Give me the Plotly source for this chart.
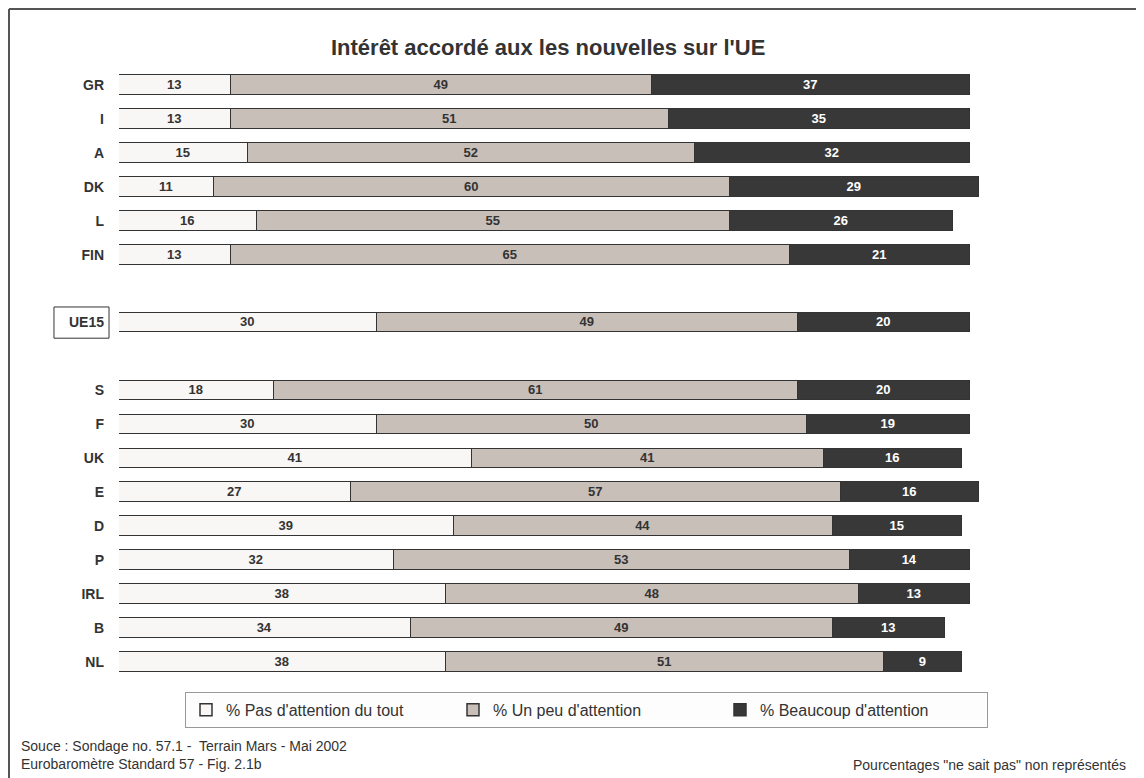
import plotly.graph_objects as go

###### DATA #####
pays = ["GR", "I", "A", "DK", "L", "FIN", "UE15", "S", "F", "UK", "E", "D", "P", "IRL", "B", "NL"]
pas_du_tout = [13, 13, 15, 11, 16, 13, 30, 18, 30, 41, 27, 39, 32, 38, 34, 38]
un_peu = [49, 51, 52, 60, 55, 65, 49, 61, 50, 41, 57, 44, 53, 48, 49, 51]
beaucoup = [37, 35, 32, 29, 26, 21, 20, 20, 19, 16, 16, 15, 14, 13, 13, 9]
noms = ["% Pas d'attention du tout", "% Un peu d'attention", "% Beaucoup d'attention"]
###### DATA #####

# one empty slot before and after UE15
pos, p = [], 0
for c in pays:
    if c in ("UE15", "S"):
        p += 1
    pos.append(p)
    p += 1

couleurs = ["#f8f7f5", "#c8bfb9", "#383838"]
textes = ["#333333", "#333333", "#ffffff"]
police = "Liberation Sans, Arial, sans-serif"

fig = go.Figure()
for vals, nom, col, tc in zip([pas_du_tout, un_peu, beaucoup], noms, couleurs, textes):
    fig.add_trace(go.Bar(
        y=pos, x=vals, name=nom, orientation="h", width=0.58,
        marker=dict(color=col, line=dict(color="#333333", width=1.5)),
        text=vals, textposition="inside", insidetextanchor="middle", textangle=0,
        textfont=dict(family=police, size=13, color=tc, weight="bold"),
        hoverinfo="skip",
    ))

# page body has an 8px margin, so the figure is 8px smaller
fig.update_layout(
    barmode="stack", bargap=0,
    width=1136, height=770,
    margin=dict(l=111, r=165, t=60, b=99, autoexpand=False),
    paper_bgcolor="white", plot_bgcolor="white",
    font=dict(family=police, color="#333333"),
    uniformtext=dict(minsize=13, mode="show"),
    title=dict(text="<b>Intérêt accordé aux les nouvelles sur l'UE</b>",
               x=0.4755, xanchor="center", y=0.949, yanchor="middle",
               font=dict(size=22, color="#333333")),
    xaxis=dict(range=[0, 100], visible=False, fixedrange=True),
    yaxis=dict(range=[17.5, -0.5], tickvals=pos,
               ticktext=["<b>%s</b>" % c for c in pays],
               tickfont=dict(size=14, color="#333333"),
               showgrid=False, zeroline=False, showline=False, ticks="",
               ticklabelstandoff=14, fixedrange=True),
    showlegend=True,
    legend=dict(orientation="h", x=(185 - 119) / 860, xanchor="left", y=-0.021, yanchor="top",
                bgcolor="#fdfdfd", bordercolor="#999999", borderwidth=1,
                font=dict(size=16, color="#333333"),
                entrywidth=222, traceorder="normal"),
)

# UE15 box
fig.add_shape(type="rect", xref="paper", yref="y",
              x0=-0.0756, x1=-0.0116, y0=pos[6] - 0.46, y1=pos[6] + 0.46,
              line=dict(color="#333333", width=1))
# outer frame (top and left)
fig.add_shape(type="line", xref="paper", yref="paper",
              x0=-0.1279, x1=1.2, y0=1.0966, y1=1.0966, line=dict(color="#555555", width=2))
fig.add_shape(type="line", xref="paper", yref="paper",
              x0=-0.1279, x1=-0.1279, y0=1.0966, y1=-0.17, line=dict(color="#555555", width=2))

fig.add_annotation(text="Souce : Sondage no. 57.1 -  Terrain Mars - Mai 2002<br>Eurobaromètre Standard 57 - Fig. 2.1b",
                   xref="paper", yref="paper", x=-0.1163, y=-0.094, xanchor="left", yanchor="top",
                   align="left", showarrow=False, font=dict(size=14, color="#333333"))
fig.add_annotation(text='Pourcentages "ne sait pas" non représentés',
                   xref="paper", yref="paper", x=1.1733, y=-0.125, xanchor="right", yanchor="top",
                   showarrow=False, font=dict(size=14, color="#333333"))

fig.write_html("out.html")
